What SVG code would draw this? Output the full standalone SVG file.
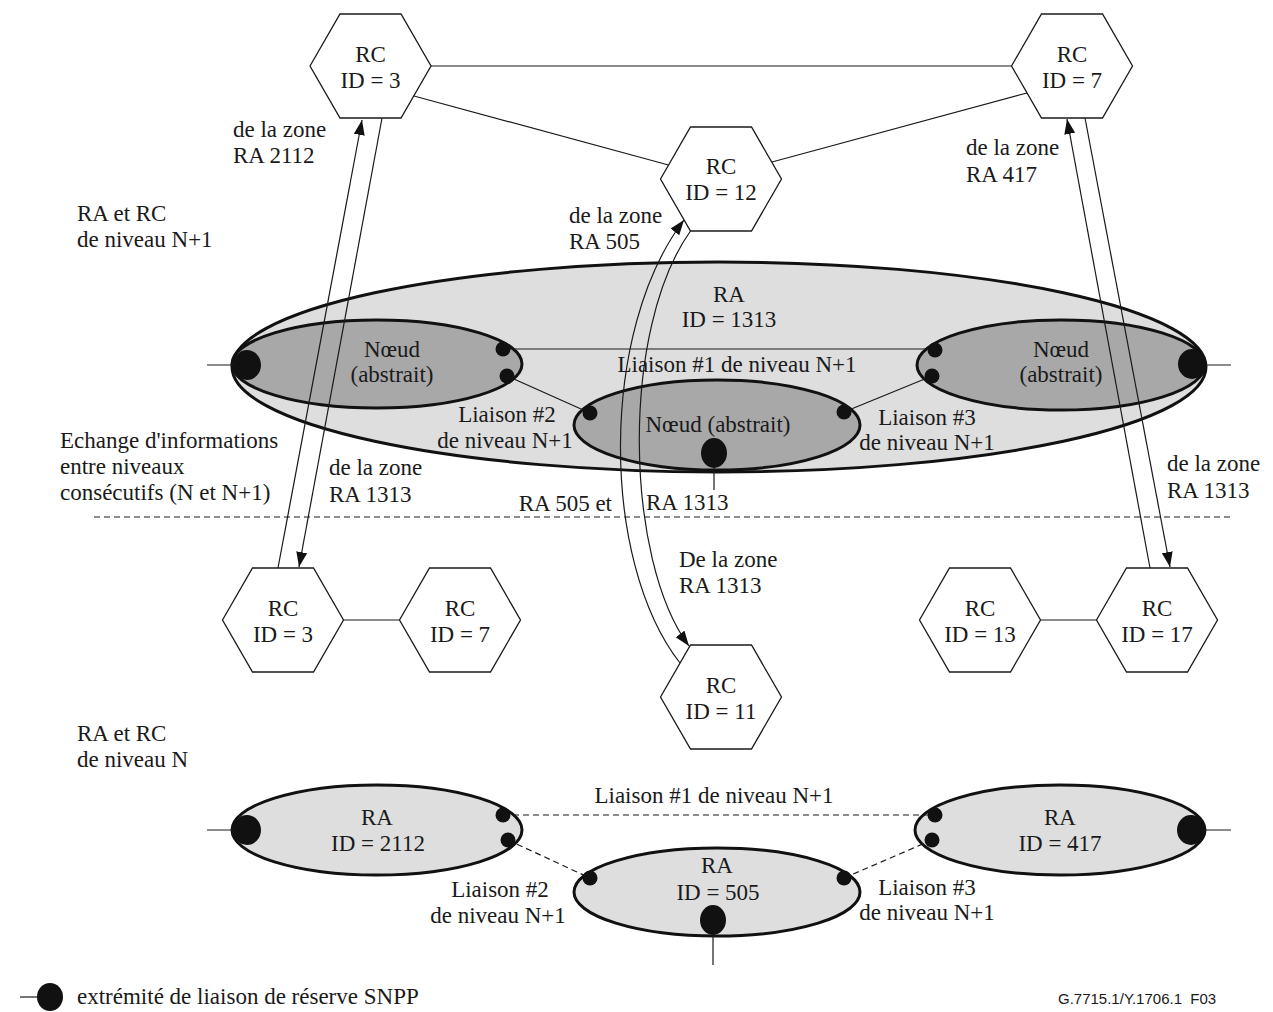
<svg xmlns="http://www.w3.org/2000/svg" width="1273" height="1012" viewBox="0 0 1273 1012">
<style>
text{font-family:"Liberation Serif","Times New Roman",serif;font-size:23px;fill:#1a1a1a}
.m{text-anchor:middle}
.e{text-anchor:end}
.hex{fill:#fff;stroke:#1a1a1a;stroke-width:1.3}
.ln{stroke:#1a1a1a;stroke-width:1.2;fill:none}
.dash{stroke:#1a1a1a;stroke-width:1.2;fill:none;stroke-dasharray:6,4}
.big{fill:#dedede;stroke:#111;stroke-width:3}
.node{fill:#a8a8a8;stroke:#111;stroke-width:3}
.dot{fill:#111}
.arr{stroke:#1a1a1a;stroke-width:1.2;fill:none;marker-end:url(#ah)}
.code{font-family:"Liberation Sans",Arial,sans-serif;font-size:15px}
</style>
<defs>
<marker id="ah" markerUnits="userSpaceOnUse" markerWidth="15" markerHeight="11" refX="15" refY="5.5" orient="auto">
<path d="M0,0 L15,5.5 L0,11 z" fill="#111"/>
</marker>
</defs>

<!-- level N+1 area -->
<g id="ra1313">
<ellipse class="big" cx="719" cy="367" rx="487" ry="105"/>
<text class="m" x="729" y="302">RA</text>
<text class="m" x="729" y="327">ID = 1313</text>
</g>
<g id="noeud-gauche">
<ellipse class="node" cx="377" cy="364" rx="145" ry="44"/>
<text class="m" x="392" y="357">Nœud</text>
<text class="m" x="392" y="382">(abstrait)</text>
</g>
<g id="noeud-droit">
<ellipse class="node" cx="1061" cy="365" rx="144" ry="45"/>
<text class="m" x="1061" y="357">Nœud</text>
<text class="m" x="1061" y="382">(abstrait)</text>
</g>
<g id="noeud-centre">
<ellipse class="node" cx="717" cy="425" rx="143" ry="45"/>
<text class="m" x="718" y="432">Nœud (abstrait)</text>
</g>

<!-- level N RAs -->
<g id="ra2112">
<ellipse class="big" cx="377" cy="830" rx="145" ry="45"/>
<text class="m" x="377" y="825">RA</text>
<text class="m" x="378" y="851">ID = 2112</text>
</g>
<g id="ra417">
<ellipse class="big" cx="1060" cy="830" rx="145" ry="45"/>
<text class="m" x="1060" y="825">RA</text>
<text class="m" x="1060" y="851">ID = 417</text>
</g>
<g id="ra505">
<ellipse class="big" cx="717" cy="892" rx="143" ry="44"/>
<text class="m" x="717" y="873">RA</text>
<text class="m" x="718" y="900">ID = 505</text>
</g>

<!-- hexagons -->
<g id="rc3-top"><polygon class="hex" points="310,66 340,14 401,14 431,66 401,118 340,118"/><text class="m" x="370.5" y="62">RC</text><text class="m" x="370.5" y="88">ID = 3</text></g>
<g id="rc7-top"><polygon class="hex" points="1011.5,66 1041.5,14 1102.5,14 1132.5,66 1102.5,118 1041.5,118"/><text class="m" x="1072" y="62">RC</text><text class="m" x="1072" y="88">ID = 7</text></g>
<g id="rc12"><polygon class="hex" points="660.5,179 690.5,127 751.5,127 781.5,179 751.5,231 690.5,231"/><text class="m" x="721" y="174">RC</text><text class="m" x="721" y="200">ID = 12</text></g>
<g id="rc3-n"><polygon class="hex" points="222.5,620 252.5,568 313.5,568 343.5,620 313.5,672 252.5,672"/><text class="m" x="283" y="616">RC</text><text class="m" x="283" y="642">ID = 3</text></g>
<g id="rc7-n"><polygon class="hex" points="399.5,620 429.5,568 490.5,568 520.5,620 490.5,672 429.5,672"/><text class="m" x="460" y="616">RC</text><text class="m" x="460" y="642">ID = 7</text></g>
<g id="rc13"><polygon class="hex" points="919.5,620 949.5,568 1010.5,568 1040.5,620 1010.5,672 949.5,672"/><text class="m" x="980" y="616">RC</text><text class="m" x="980" y="642">ID = 13</text></g>
<g id="rc17"><polygon class="hex" points="1096.5,620 1126.5,568 1187.5,568 1217.5,620 1187.5,672 1126.5,672"/><text class="m" x="1157" y="616">RC</text><text class="m" x="1157" y="642">ID = 17</text></g>
<g id="rc11"><polygon class="hex" points="660.5,697 690.5,645 751.5,645 781.5,697 751.5,749 690.5,749"/><text class="m" x="721" y="693">RC</text><text class="m" x="721" y="719">ID = 11</text></g>

<!-- connectors -->
<g id="connectors">
<line class="ln" x1="431" y1="66" x2="1011.5" y2="66"/>
<line class="ln" x1="414" y1="96" x2="668.5" y2="165"/>
<line class="ln" x1="772" y1="162" x2="1027" y2="93"/>
<line class="ln" x1="343.5" y1="620" x2="399.5" y2="620"/>
<line class="ln" x1="1040.5" y1="620" x2="1096.5" y2="620"/>
<line class="ln" x1="207" y1="365" x2="240" y2="365"/>
<line class="ln" x1="1195" y1="365" x2="1231" y2="365"/>
<line class="ln" x1="503" y1="349" x2="935" y2="349"/>
<line class="ln" x1="507" y1="376" x2="590" y2="413"/>
<line class="ln" x1="844" y1="412" x2="932" y2="376"/>
<line class="ln" x1="714" y1="460" x2="714" y2="490"/>
<line class="ln" x1="207" y1="830" x2="240" y2="830"/>
<line class="ln" x1="1195" y1="830" x2="1231" y2="830"/>
<line class="dash" x1="503" y1="815" x2="935" y2="815"/>
<line class="dash" x1="508" y1="840" x2="590" y2="878"/>
<line class="dash" x1="844" y1="878" x2="932" y2="840"/>
<line class="ln" x1="713" y1="925" x2="713" y2="965"/>
<line class="dash" x1="94" y1="517" x2="1232" y2="517"/>
<line class="arr" x1="278" y1="568" x2="362" y2="120"/>
<line class="arr" x1="382" y1="118" x2="299" y2="567"/>
<line class="arr" x1="1150" y1="568" x2="1067" y2="119"/>
<line class="arr" x1="1085" y1="118" x2="1170" y2="567"/>
<path class="arr" d="M680,663 C600,560 600,330 684,220"/>
<path class="arr" d="M690.5,231 C620,330 625,560 689,646"/>
</g>

<!-- SNPP link ends -->
<g id="dots">
<ellipse class="dot" cx="247" cy="365" rx="14" ry="15"/>
<circle class="dot" cx="503" cy="349" r="7.5"/>
<circle class="dot" cx="507" cy="376" r="7.5"/>
<circle class="dot" cx="590" cy="413" r="7.5"/>
<circle class="dot" cx="844" cy="412" r="7.5"/>
<circle class="dot" cx="935" cy="350" r="7.5"/>
<circle class="dot" cx="932" cy="376" r="7.5"/>
<ellipse class="dot" cx="1192" cy="364" rx="14" ry="15"/>
<ellipse class="dot" cx="714" cy="453" rx="13" ry="15"/>
<ellipse class="dot" cx="247" cy="830" rx="14" ry="15"/>
<circle class="dot" cx="503" cy="815" r="7.5"/>
<circle class="dot" cx="508" cy="840" r="7.5"/>
<circle class="dot" cx="590" cy="878" r="7.5"/>
<circle class="dot" cx="844" cy="878" r="7.5"/>
<circle class="dot" cx="935" cy="815" r="7.5"/>
<circle class="dot" cx="932" cy="840" r="7.5"/>
<ellipse class="dot" cx="1191" cy="830" rx="14" ry="15"/>
<ellipse class="dot" cx="713" cy="920" rx="13" ry="15"/>
</g>

<!-- labels -->
<g id="labels">
<text x="233" y="137">de la zone</text>
<text x="233" y="163">RA 2112</text>
<text x="569" y="223">de la zone</text>
<text x="569" y="249">RA 505</text>
<text x="966" y="155">de la zone</text>
<text x="966" y="182">RA 417</text>
<text x="77" y="221">RA et RC</text>
<text x="77" y="247">de niveau N+1</text>
<text class="m" x="737" y="372">Liaison #1 de niveau N+1</text>
<text class="m" x="507" y="422">Liaison #2</text>
<text class="m" x="505" y="448">de niveau N+1</text>
<text class="m" x="927" y="425">Liaison #3</text>
<text class="m" x="927" y="450">de niveau N+1</text>
<text x="60" y="448">Echange d'informations</text>
<text x="60" y="474">entre niveaux</text>
<text x="60" y="500">consécutifs (N et N+1)</text>
<text x="329" y="475">de la zone</text>
<text x="329" y="502">RA 1313</text>
<text class="e" x="612" y="511">RA 505 et</text>
<text x="646" y="510">RA 1313</text>
<text x="1167" y="471">de la zone</text>
<text x="1167" y="498">RA 1313</text>
<text x="679" y="567">De la zone</text>
<text x="679" y="593">RA 1313</text>
<text x="77" y="741">RA et RC</text>
<text x="77" y="767">de niveau N</text>
<text class="m" x="714" y="803">Liaison #1 de niveau N+1</text>
<text class="m" x="500" y="897">Liaison #2</text>
<text class="m" x="498" y="923">de niveau N+1</text>
<text class="m" x="927" y="895">Liaison #3</text>
<text class="m" x="927" y="920">de niveau N+1</text>
</g>

<!-- legend -->
<g id="legend">
<line class="ln" x1="20" y1="997" x2="40" y2="997"/>
<ellipse class="dot" cx="50" cy="997" rx="13" ry="14"/>
<text x="77" y="1004">extrémité de liaison de réserve SNPP</text>
<text class="code" x="1058" y="1004" xml:space="preserve">G.7715.1/Y.1706.1  F03</text>
</g>
</svg>
